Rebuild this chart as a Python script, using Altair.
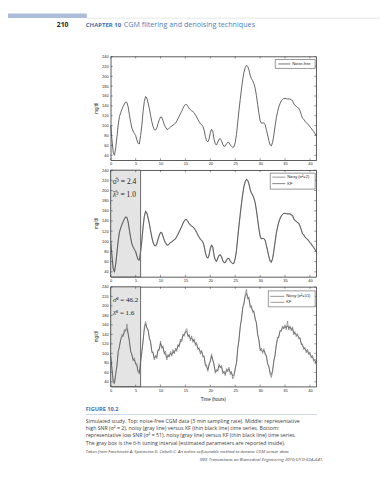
import altair as alt
import pandas as pd

# ---------------- data ----------------
hours = [i * 0.25 for i in range(166)]

noise_free = [
    100, 71, 46, 40, 55, 77, 101, 118, 126, 133,
    139, 144, 148, 147, 138, 122, 107, 95, 89, 84,
    80, 71, 64, 63, 80, 101, 129, 149, 159, 156,
    146, 135, 121, 108, 98, 92, 91, 95, 104, 112,
    117.5, 117, 110, 102, 97, 93, 92.5, 95, 97.5, 99,
    101, 103, 105, 109, 114, 119, 124, 129, 135, 140,
    143, 142.5, 139, 135, 132, 130, 128.5, 126, 122, 117.5,
    112.5, 108, 104, 102, 98.5, 91, 78, 69.5, 67, 73,
    86, 92.5, 88.5, 72, 63, 60.5, 67, 72.5, 73.5, 69.5,
    62, 58, 58.5, 63, 66.5, 66, 61, 58, 56, 57,
    66, 82, 107, 131, 153, 174, 193, 208, 217.5, 222,
    220, 213, 202, 195, 191, 185, 176, 161, 143, 125,
    110, 105, 105.5, 105.5, 102, 92, 81, 70, 61, 59,
    66, 81, 99, 116, 128, 138, 145, 150, 153, 155,
    155, 154.5, 154, 154, 154, 152, 151, 144, 141, 139.5,
    137, 135.5, 130, 123, 115, 113, 108.5, 106, 104, 101,
    97.5, 95, 91, 88, 84, 80,
]

noisy_51 = [
    91, 66, 38, 35, 58, 72, 104, 113, 129, 140,
    135, 150, 146, 162, 143, 127, 103, 99, 84, 91,
    77, 79, 60, 56, 84, 104, 125, 156, 167, 152,
    151, 131, 126, 101, 103, 86, 96, 89, 108, 106,
    126, 110, 116, 98, 105, 86, 98, 92, 104, 94,
    108, 99, 111, 104, 119, 113, 130, 124, 141, 136,
    147, 152, 134, 140, 126, 137, 123, 131, 116, 123,
    108, 112, 98, 107, 92, 95, 74, 76, 62, 79,
    82, 99, 84, 78, 58, 66, 62, 78, 69, 75,
    57, 63, 53, 68, 61, 71, 55, 62, 46, 51,
    70, 78, 112, 126, 158, 170, 198, 203, 224, 235,
    214, 219, 196, 201, 186, 190, 171, 166, 138, 130,
    105, 111, 100, 110, 97, 96, 76, 74, 56, 49,
    62, 86, 95, 121, 134, 133, 149, 146, 158, 151,
    160, 150, 168, 149, 158, 147, 156, 139, 146, 135,
    142, 130, 134, 118, 120, 108, 113, 101, 109, 97,
    103, 90, 96, 83, 88, 76,
]

kf_51 = [
    94, 68, 42, 38, 56, 75, 102, 116, 128, 135,
    138, 146, 149, 152, 140, 124, 105, 96, 87, 86,
    79, 73, 62, 60, 81, 102, 127, 151, 162, 155,
    148, 133, 123, 106, 100, 90, 93, 93, 106, 110,
    121, 115, 112, 101, 99, 91, 94, 94, 100, 97,
    103, 102, 107, 108, 116, 117, 126, 128, 137, 139,
    145, 146, 138, 137, 131, 132, 127, 127, 121, 119,
    111, 109, 103, 103, 96, 92, 77, 71, 66, 75,
    85, 94, 87, 74, 62, 62, 66, 74, 72, 71,
    61, 59, 57, 64, 65, 67, 60, 59, 52, 55,
    67, 81, 108, 130, 154, 174, 194, 207, 219, 226,
    219, 214, 201, 196, 190, 186, 175, 162, 142, 126,
    109, 106, 104, 106, 101, 93, 80, 71, 60, 55,
    64, 82, 98, 117, 129, 137, 146, 149, 154, 154,
    156, 154, 158, 153, 155, 151, 152, 143, 142, 139,
    138, 134, 131, 122, 116, 112, 109, 105, 105, 100,
    98, 94, 92, 87, 85, 79,
]

x_ticks = [0, 5, 10, 15, 20, 25, 30, 35, 40]
y_ticks = [40, 60, 80, 100, 120, 140, 160, 180, 200, 220, 240]
tuning_end = 6

header_page = "210"
header_chapter = "CHAPTER 10"
header_title = "CGM filtering and denoising techniques"
figure_label = "FIGURE 10.2"
caption_lines = [
    "Simulated study. Top: noise-free CGM data (3 min sampling rate). Middle: representative",
    "high SNR (\u03c3\u00b2 = 2), noisy (gray line) versus KF (thin black line) time series. Bottom:",
    "representative low SNR (\u03c3\u00b2 = 51), noisy (gray line) versus KF (thin black line) time series.",
    "The gray box is the 6-h tuning interval (estimated parameters are reported inside).",
]
credit_1 = "Taken from Facchinetti A, Sparacino G, Cobelli C. An online self-tunable method to denoise CGM sensor data."
credit_2 = "IEEE Transactions on Biomedical Engineering 2010;57(3):634\u2013641."

# ---------------- styling ----------------
W = 206
H1, H2, H3 = 104, 107, 100
TICK_FONT = "Liberation Sans"
TEXT_FONT = "Open Sans"
BLUE = "#3f6fa8"
FRAME = "#333333"

one = pd.DataFrame({"a": [0]})
XS = alt.Scale(domain=[0, 41.25], nice=False, zero=False)
YS = alt.Scale(domain=[30, 240], nice=False, zero=False)


def X(field="t"):
    return alt.X(f"{field}:Q", scale=XS, axis=alt.Axis(
        values=x_ticks, title=None, ticks=False, domain=False, grid=False,
        labelFontSize=4, labelFont=TICK_FONT, labelColor="#222",
        labelPadding=1.5, labelFlush=False, labelOverlap=False))


def Y(field="v"):
    return alt.Y(f"{field}:Q", scale=YS, axis=alt.Axis(
        values=y_ticks, title=None, ticks=False, domain=False, grid=False,
        labelFontSize=4, labelFont=TICK_FONT, labelColor="#222",
        labelPadding=2.5, labelFlush=False, labelOverlap=False))


def line(values, color, width):
    df = pd.DataFrame({"t": hours, "v": values})
    return alt.Chart(df).mark_line(color=color, strokeWidth=width).encode(x=X(), y=Y())


def ptext(txt, x, y, size, font=TICK_FONT, align="left", baseline="middle",
          color="#222", **kw):
    return alt.Chart(one).mark_text(text=txt, fontSize=size, font=font, align=align,
                                    baseline=baseline, color=color, **kw).encode(
        x=alt.value(x), y=alt.value(y))


def prule(x1, x2, y1, y2, color, width):
    return alt.Chart(one).mark_rule(color=color, strokeWidth=width).encode(
        x=alt.value(x1), x2=alt.value(x2), y=alt.value(y1), y2=alt.value(y2))


def prect(x1, x2, y1, y2, fill, stroke="#333", sw=0.0):
    return alt.Chart(one).mark_rect(fill=fill, stroke=stroke, strokeWidth=sw).encode(
        x=alt.value(x1), x2=alt.value(x2), y=alt.value(y1), y2=alt.value(y2))


def frame_ticks(H):
    dx = pd.DataFrame({"t": x_ticks})
    dy = pd.DataFrame({"v": y_ticks})
    kw = dict(color=FRAME, strokeWidth=0.5)
    return [
        alt.Chart(dx).mark_rule(**kw).encode(x=X(), y=alt.value(H), y2=alt.value(H - 2)),
        alt.Chart(dx).mark_rule(**kw).encode(x=X(), y=alt.value(0), y2=alt.value(2)),
        alt.Chart(dy).mark_rule(**kw).encode(y=Y(), x=alt.value(0), x2=alt.value(2)),
        alt.Chart(dy).mark_rule(**kw).encode(y=Y(), x=alt.value(W - 2), x2=alt.value(W)),
    ]


def tuning_box(H):
    df = pd.DataFrame({"t": [0], "t2": [tuning_end]})
    return alt.Chart(df).mark_rect(fill="#e4e4e4", stroke=FRAME, strokeWidth=0.7).encode(
        x=X(), x2=alt.X2("t2"), y=alt.value(0), y2=alt.value(H))


def ylabel(H):
    return ptext("mg/dl", -14, H / 2, 4.5, angle=270, align="center")


view_frame = alt.ViewBackground(stroke=FRAME, strokeWidth=0.8)

# ---------------- header ----------------
header = alt.layer(
    prect(-103, -24, 0, 4.5, "#abbdd8"),
    prule(-24, 270, 4.6, 4.6, "#d3d3d3", 0.6),
    ptext(header_page, -54, 11.7, 6.8, font=TEXT_FONT, fontWeight="bold", color="#222"),
    ptext(header_chapter, -25, 11.7, 6.0, font=TEXT_FONT, fontWeight="bold", color=BLUE),
    ptext(header_title, 13, 11.7, 7.2, font=TEXT_FONT, color="#4d7fba"),
).properties(width=W, height=33)

# ---------------- panel 1 ----------------
p1 = alt.layer(
    line(noise_free, "#555555", 0.9),
    *frame_ticks(H1),
    prect(165, 205, 3, 12, "white", FRAME, 0.5),
    prule(168, 180, 7.5, 7.5, "#555555", 0.8),
    ptext("Noise-free", 182, 7.5, 4),
    ylabel(H1),
).properties(width=W, height=H1, view=view_frame)

# ---------------- panel 2 ----------------
p2 = alt.layer(
    tuning_box(H2),
    line(noise_free, "#a8a8a8", 1.2),
    line(noise_free, "#333333", 0.6),
    *frame_ticks(H2),
    prect(160, 205, 3, 19, "white", FRAME, 0.5),
    prule(162, 175, 7, 7, "#a8a8a8", 1.2),
    ptext("Noisy (\u03c3\u00b2=2)", 177, 7, 4),
    prule(162, 175, 13.5, 13.5, "#333333", 0.6),
    ptext("KF", 177, 13.5, 4),
    ptext("\u03c3\u0302\u00b2 = 2.4", 2, 12, 7.5, font="Liberation Serif"),
    ptext("\u03bb\u0302\u00b2 = 1.0", 2, 25, 7.5, font="Liberation Serif"),
    ylabel(H2),
).properties(width=W, height=H2, view=view_frame)

# ---------------- panel 3 ----------------
p3 = alt.layer(
    tuning_box(H3),
    line(noisy_51, "#8a8a8a", 0.8),
    line(kf_51, "#333333", 0.5),
    *frame_ticks(H3),
    prect(158, 205, 4, 20, "white", FRAME, 0.5),
    prule(160, 174, 9.5, 9.5, "#8a8a8a", 0.9),
    ptext("Noisy (\u03c3\u00b2=51)", 176, 9.5, 4),
    prule(160, 174, 15.5, 15.5, "#333333", 0.5),
    ptext("KF", 176, 15.5, 4),
    ptext("\u03c3\u0302\u00b2 = 46.2", 2, 13, 7.0, font="Liberation Serif"),
    ptext("\u03bb\u0302\u00b2 = 1.6", 2, 26, 7.0, font="Liberation Serif"),
    ylabel(H3),
    ptext("Time (hours)", W / 2, H3 + 13, 4.5, align="center"),
).properties(width=W, height=H3, view=view_frame)

# ---------------- caption ----------------
cap_layers = [
    ptext(figure_label, -25, 12.5, 5.6, font=TEXT_FONT, fontWeight="bold", color=BLUE),
    prule(-25, 207, 18, 18, "#a9bad3", 0.6),
]
for i, txt in enumerate(caption_lines):
    cap_layers.append(ptext(txt, -25, 24 + 7.5 * i, 5.25, font=TEXT_FONT, color="#3a3a3a"))
cap_layers.append(ptext(credit_1, -25, 55.5, 4.3, font=TEXT_FONT, color="#444", fontStyle="italic"))
cap_layers.append(ptext(credit_2, 213, 63.3, 4.3, font=TEXT_FONT, color="#444",
                        fontStyle="italic", align="right"))
caption = alt.layer(*cap_layers).properties(width=W, height=68)

chart = alt.vconcat(header, p1, p2, p3, caption, spacing=10, bounds="flush").properties(
    padding={"left": 0, "top": 5, "right": 0, "bottom": 0}
).configure_view(strokeWidth=0)

chart.save("out.html", embed_options={"renderer": "svg", "actions": False})
